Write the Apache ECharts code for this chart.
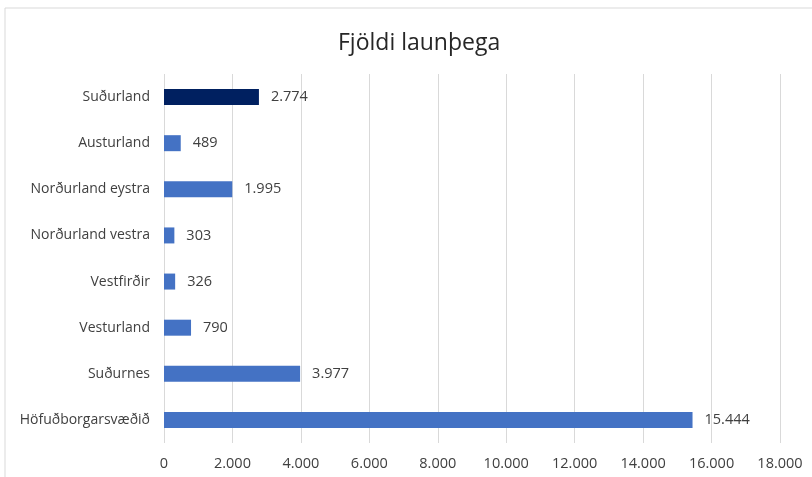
<!DOCTYPE html>
<html><head><meta charset="utf-8">
<script src="https://cdn.jsdelivr.net/npm/echarts@6/dist/echarts.min.js"></script>
<style>html,body{margin:0;padding:0;background:#fff}#c{width:812px;height:477px}</style>
</head><body><div id="c"></div>
<script>
const title = 'Fjöldi launþega';
const categories = ['Höfuðborgarsvæðið','Suðurnes','Vesturland','Vestfirðir','Norðurland vestra','Norðurland eystra','Austurland','Suðurland'];
const values = [15444, 3977, 790, 326, 303, 1995, 489, 2774];
const highlight = 'Suðurland';
const xTicks = [0,2000,4000,6000,8000,10000,12000,14000,16000,18000];

const fmt = v => String(v).replace(/\B(?=(\d{3})+(?!\d))/g, '.');
const chart = echarts.init(document.getElementById('c'));
const font = '"Open Sans", "Noto Sans", sans-serif';
chart.setOption({
  animation:false,
  graphic:[{type:'rect',shape:{x:5,y:8,width:1000,height:1000},style:{fill:'none',stroke:'#d9d9d9',lineWidth:1},silent:true}],
  title:{text:title,left:333,top:27,textStyle:{fontFamily:font,fontSize:23,fontWeight:'normal',color:'#262626'}},
  grid:{left:164,right:32,top:74,bottom:34,containLabel:false},
  xAxis:{type:'value',min:xTicks[0],max:xTicks[xTicks.length-1],interval:2000,
    axisLine:{show:false},axisTick:{show:false},
    splitLine:{lineStyle:{color:'#d9d9d9',width:1}},
    axisLabel:{formatter:fmt,fontFamily:font,fontSize:14.5,color:'#404040',margin:13}},
  yAxis:{type:'category',data:categories,
    axisLine:{show:false},axisTick:{show:false},
    axisLabel:{fontFamily:font,fontSize:14,color:'#404040',margin:14}},
  series:[{type:'bar',barWidth:16,
    data:values.map((v,i)=>({value:v,itemStyle:{color:categories[i]===highlight?'#002060':'#4472C4'}})),
    label:{show:true,position:'right',distance:12,formatter:p=>fmt(p.value),fontFamily:font,fontSize:14.5,color:'#404040'}}]
});
</script></body></html>
